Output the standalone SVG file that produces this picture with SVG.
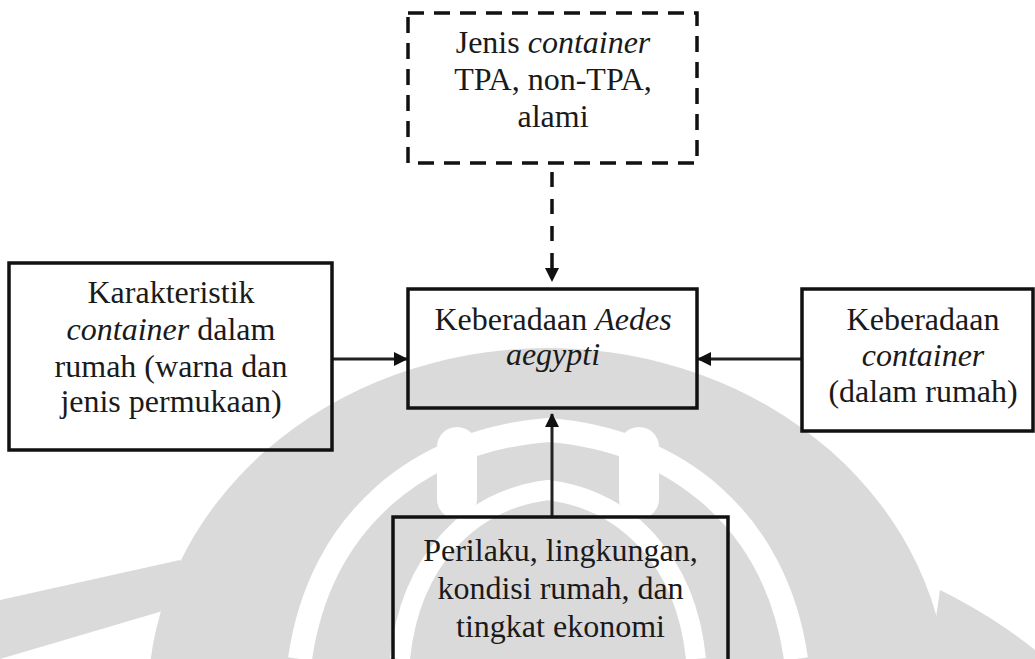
<svg xmlns="http://www.w3.org/2000/svg" width="1035" height="659" viewBox="0 0 1035 659">
  <style>
    .box { fill: none; stroke: #111; stroke-width: 3.5; }
    .dash { fill: none; stroke: #111; stroke-width: 3.5; stroke-dasharray: 16 10; }
    .conn { fill: none; stroke: #222; stroke-width: 3; }
    .conn-dash { fill: none; stroke: #111; stroke-width: 3.5; stroke-dasharray: 15 12; }
    text { font-family: "Liberation Serif", "Times New Roman", serif; font-size: 32px; fill: #1a1a1a; text-anchor: middle; }
    .it { font-style: italic; }
    .wm { fill: #dadada; }
    .wmw { fill: none; stroke: #ffffff; }
  </style>
  <defs>
    <marker id="arrow" viewBox="0 0 14 14" refX="13" refY="7" markerWidth="14" markerHeight="14" markerUnits="userSpaceOnUse" orient="auto">
      <path d="M0,0 L14,7 L0,14 Z" fill="#111"/>
    </marker>
  </defs>
  <rect width="1035" height="659" fill="#ffffff"/>
  <g id="watermark">
    <ellipse class="wm" cx="548" cy="700" rx="400" ry="352"/>
    <path class="wmw" stroke-width="24" d="M300,659 C320,520 420,440 548,430 C676,440 776,520 796,659"/>
    <path class="wmw" stroke-width="20" d="M400,659 C410,560 470,500 548,490 C626,500 686,560 696,659"/>
    <rect x="437" y="427" width="40" height="92" rx="20" fill="#ffffff"/>
    <rect x="619" y="427" width="40" height="92" rx="20" fill="#ffffff"/>
    <path class="wm" d="M0,600 L180,560 L200,600 L0,659 Z"/>
    <path class="wm" d="M940,590 C980,610 1010,630 1035,650 L1035,659 L930,659 Z"/>
  </g>
  <g id="connectors">
    <line class="conn-dash" x1="552" y1="172" x2="552" y2="270"/>
    <path d="M545,268 L559,268 L552,282 Z" fill="#111"/>
    <line class="conn" x1="332" y1="359" x2="407" y2="359" marker-end="url(#arrow)"/>
    <line class="conn" x1="802" y1="359" x2="698" y2="359" marker-end="url(#arrow)"/>
    <line class="conn" x1="552" y1="516" x2="552" y2="414" marker-end="url(#arrow)"/>
  </g>
  <g id="node-jenis">
    <rect class="dash" x="408" y="13" width="289" height="150"/>
    <text x="553" y="53">Jenis <tspan class="it">container</tspan></text>
    <text x="553" y="90">TPA, non-TPA,</text>
    <text x="553" y="127">alami</text>
  </g>
  <g id="node-karakteristik">
    <rect class="box" x="9" y="263" width="323" height="187"/>
    <text x="171" y="303">Karakteristik</text>
    <text x="171" y="339.5"><tspan class="it">container</tspan> dalam</text>
    <text x="171" y="376.5">rumah (warna dan</text>
    <text x="171" y="412">jenis permukaan)</text>
  </g>
  <g id="node-aedes">
    <rect class="box" x="408" y="289" width="289" height="119"/>
    <text x="553" y="330">Keberadaan <tspan class="it">Aedes</tspan></text>
    <text x="553" y="365" class="it">aegypti</text>
  </g>
  <g id="node-keberadaan-container">
    <rect class="box" x="802" y="289" width="231" height="142"/>
    <text x="923" y="330">Keberadaan</text>
    <text x="923" y="366" class="it">container</text>
    <text x="923" y="402">(dalam rumah)</text>
  </g>
  <g id="node-perilaku">
    <rect class="box" x="393" y="517" width="335" height="160"/>
    <text x="560.5" y="561">Perilaku, lingkungan,</text>
    <text x="560.5" y="599">kondisi rumah, dan</text>
    <text x="560.5" y="637">tingkat ekonomi</text>
  </g>
</svg>
